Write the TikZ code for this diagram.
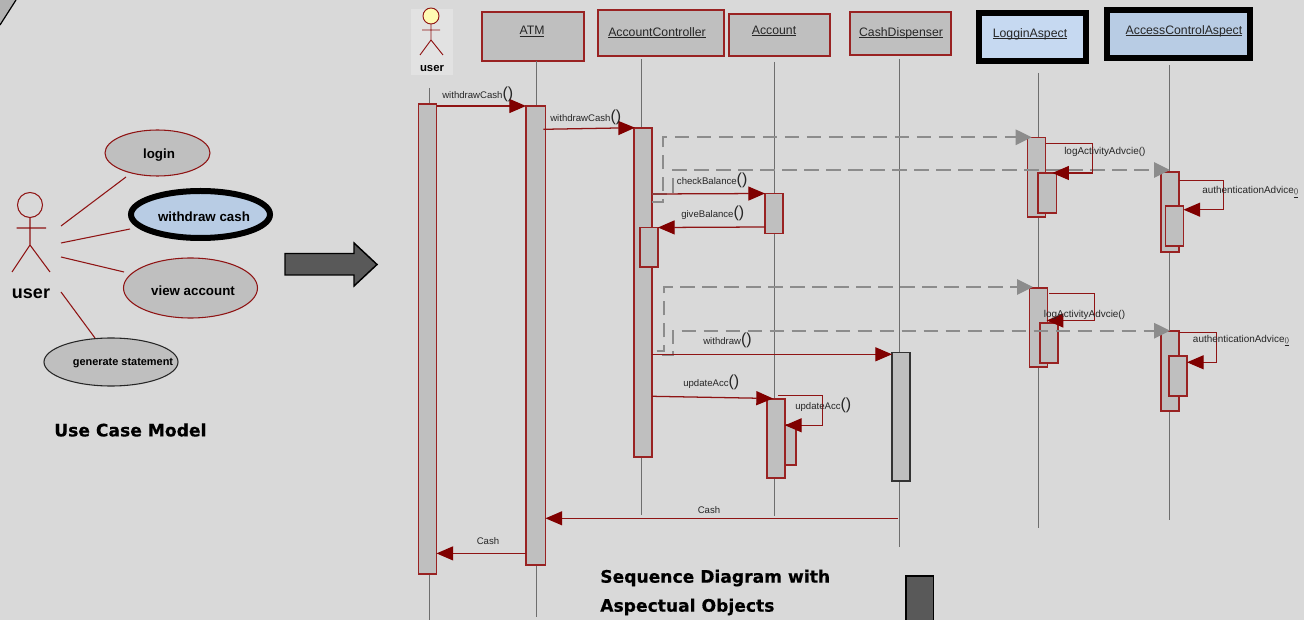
\documentclass[tikz,border=0pt]{standalone}
\usepackage{fontspec}
\setmainfont{Liberation Sans}
\newfontfamily\titlefont[BoldFeatures={FakeBold=0.5}]{DejaVu Sans}
\usetikzlibrary{arrows.meta,fit,shapes.geometric}
\definecolor{bgc}{HTML}{D9D9D9}
\definecolor{fillc}{HTML}{BFBFBF}
\definecolor{redl}{HTML}{8F1414}
\definecolor{redh}{HTML}{800000}
\definecolor{barl}{HTML}{992222}
\definecolor{dashc}{HTML}{8C8C8C}
\definecolor{lifec}{HTML}{6E6E6E}
\definecolor{darkc}{HTML}{595959}
\definecolor{blueA}{HTML}{C6D9F1}
\definecolor{blueB}{HTML}{B8CCE4}
\definecolor{paleback}{HTML}{E2E2E2}
\tikzset{
  barbox/.style={draw=barl,fill=fillc,line width=.95pt,inner sep=0pt,outer sep=0pt,rectangle},
  blackbar/.style={draw=black!80,fill=fillc,line width=.95pt,inner sep=0pt,outer sep=0pt,rectangle},
  headbox/.style={draw=barl,fill=fillc,line width=1pt,inner sep=0pt,outer sep=0pt,rectangle},
  aspectA/.style={draw=black,fill=blueA,line width=4.5pt,inner sep=0pt,outer sep=0pt,rectangle},
  aspectB/.style={draw=black,fill=blueB,line width=4.5pt,inner sep=0pt,outer sep=0pt,rectangle},
  life/.style={draw=lifec,line width=.7pt},
  msg/.style={draw=redl,line width=.95pt,-{Triangle[length=12.5pt,width=10.5pt,fill=redh,color=redh]}},
  dashmsg/.style={draw=dashc,line width=1.5pt,dash pattern=on 11pt off 5.5pt,-{Triangle[length=12pt,width=11.5pt,fill=dashc,color=dashc]}},
  assoc/.style={draw=redl,line width=.8pt},
  stick/.style={draw=redl,line width=.8pt},
  uc/.style={ellipse,draw=redl,fill=fillc,line width=.8pt,inner sep=0pt,outer sep=0pt},
  lbl/.style={anchor=west,inner sep=0pt,font=\fontsize{7.2pt}{8pt}\selectfont,text=black!85},
  advlbl/.style={anchor=west,inner sep=0pt,font=\fontsize{7.45pt}{8pt}\selectfont,text=black!85},
  headlbl/.style={anchor=base,inner sep=0pt,font=\fontsize{9.2pt}{11pt}\selectfont,text=black!85},
  uclbl/.style={inner sep=0pt,font=\fontsize{10pt}{12pt}\selectfont\bfseries},
  titlelbl/.style={anchor=west,inner sep=0pt,font=\titlefont\fontsize{12.85pt}{14pt}\selectfont\bfseries},
}
\newcommand{\boxnode}[6]{\coordinate (#1a) at (#3,#4); \coordinate (#1b) at (#5,#6);
  \node[#2,fit=(#1a)(#1b)] (#1) {};}
\newcommand{\pp}{{\fontsize{12pt}{12pt}\selectfont()}}
\newsavebox{\ulbox}
\newcommand{\ulh}[1]{\sbox{\ulbox}{#1}\rlap{\rule[-1.1pt]{\wd\ulbox}{.55pt}}\usebox{\ulbox}}
\begin{document}
\begin{tikzpicture}[x=0.75pt,y=-0.75pt]
\useasboundingbox (0,0) rectangle (1304,620);
\clip (0,0) rectangle (1304,620);
\fill[bgc] (0,0) rectangle (1304,620);
% corner fragment
\fill[black!30] (0,0) -- (16,0) -- (0,25) -- cycle;
\draw[black,line width=.9pt] (16,0) -- (0,25);

% ---------- use case model
\coordinate (hd) at (30,205);
\node[circle,draw=redl,line width=.8pt,minimum size=18.75pt,inner sep=0pt,outer sep=0pt] (uhead) at (hd) {};
\coordinate (hip) at (30,245); \coordinate (armL) at (16.5,228); \coordinate (armR) at (46,228);
\coordinate (legL) at (12,272); \coordinate (legR) at (50,272);
\draw[stick] (uhead.south) -- (hip) (armL) -- (armR) (legL) -- (hip) -- (legR);
\node[inner sep=0pt,font=\fontsize{13.5pt}{15pt}\selectfont\bfseries] (ulabel) at (31,294) {user};

\node[uc,minimum width=78.75pt,minimum height=34.5pt] (login) at (157.5,153) {};
\node[uc,draw=black,fill=blueB,line width=4.5pt,minimum width=104.25pt,minimum height=35.25pt] (withdraw) at (200.5,214.5) {};
\node[uc,minimum width=100.5pt,minimum height=45pt] (view) at (190.5,288) {};
\node[uc,draw=black!85,minimum width=100.5pt,minimum height=36pt] (gen) at (111,362) {};
\node[uclbl] (tlogin) at (159,155) {login};
\node[uclbl] (twithdraw) at (204,216.5) {withdraw cash};
\node[uclbl] (tview) at (193,291) {view account};
\node[uclbl,font=\fontsize{8.2pt}{10pt}\selectfont\bfseries] (tgen) at (123,363.5) {generate statement};
\coordinate (a1) at (61,226); \coordinate (e1) at (126,177);
\coordinate (a2) at (61,243); \coordinate (e2) at (130,229);
\coordinate (a3) at (61,257); \coordinate (e3) at (124,272);
\coordinate (a4) at (61,292); \coordinate (e4) at (95,338);
\draw[assoc] (a1) -- (e1); \draw[assoc] (a2) -- (e2); \draw[assoc] (a3) -- (e3); \draw[assoc] (a4) -- (e4);
\node[titlelbl] (tuc) at (54,430) {Use Case Model};

% big arrow
\draw[black,fill=darkc,line width=1.1pt] (285,253.5) -- (354,253.5) -- (354,243) -- (377,264.5) -- (354,286) -- (354,275) -- (285,275) -- cycle;
% bottom block
\draw[black,fill=darkc,line width=1.1pt] (906,625) -- (906,576) -- (933.5,576) -- (933.5,625);

% ---------- sequence heads
\fill[paleback] (411,9) rectangle (453,75);
\node[circle,draw=redl,fill=yellow!30,line width=.7pt,minimum size=12pt,inner sep=0pt,outer sep=0pt] (shead) at (431,16) {};
\coordinate (ship) at (431,40); \coordinate (sarmL) at (422,30); \coordinate (sarmR) at (440,30);
\coordinate (slegL) at (420,55); \coordinate (slegR) at (443,55);
\draw[stick,line width=.7pt] (shead.south) -- (ship) (sarmL) -- (sarmR) (slegL) -- (ship) -- (slegR);
\node[inner sep=0pt,font=\fontsize{8.5pt}{10pt}\selectfont\bfseries] (suser) at (432,69) {user};

\boxnode{hATM}{headbox}{482}{12}{584}{61}
\boxnode{hAC}{headbox}{598}{10}{724}{56}
\boxnode{hAcc}{headbox}{729}{14}{830}{56}
\boxnode{hCD}{headbox}{850}{12}{951}{55}
\boxnode{hLog}{aspectA}{979}{13.5}{1086}{61}
\boxnode{hAcl}{aspectB}{1107}{10}{1250}{58.5}
\node[headlbl] (lATM) at (532,35) {\ulh{ATM}};
\node[headlbl] (lAC) at (657,36.7) {\ulh{AccountController}};
\node[headlbl] (lAcc) at (774,34.5) {\ulh{Account}};
\node[headlbl] (lCD) at (901,36.5) {\ulh{CashDispenser}};
\node[headlbl] (lLog) at (1030,37.5) {\ulh{LogginAspect}};
\node[headlbl] (lAcl) at (1184,34.5) {\ulh{AccessControlAspect}};

% ---------- lifelines
\coordinate (lu0) at (429,88); \coordinate (lu1) at (429,620);
\coordinate (l1) at (536,617); \coordinate (l2) at (641,515); \coordinate (l3) at (774,516);
\coordinate (l4) at (899,547); \coordinate (l5) at (1038,528); \coordinate (l6) at (1169,520);
\draw[life] (lu0) -- (lu1);
\draw[life] (l1 |- hATM.south) -- (l1);
\draw[life] (l2 |- hAC.south) ++(0,3) -- (l2);
\draw[life] (l3 |- hAcc.south) ++(0,6) -- (l3);
\draw[life] (l4 |- hCD.south) ++(0,4) -- (l4);
\draw[life] (l5 |- hLog.south) ++(0,12) -- (l5);
\draw[life] (l6 |- hAcl.south) ++(0,7) -- (l6);

% ---------- activation bars
\boxnode{bU}{barbox}{418.5}{104}{436.5}{574}
\boxnode{bATM}{barbox}{526}{106}{545.5}{565}
\boxnode{bAC}{barbox}{634}{128}{652}{457}
\boxnode{bACs}{barbox}{640}{227.5}{658}{267}
\boxnode{bA1}{barbox}{765}{193.5}{783}{233.5}
\boxnode{bA3}{barbox}{778}{425}{796}{465}
\boxnode{bA2}{barbox}{767}{399}{785}{478}
\boxnode{bCD}{blackbar}{892}{352.5}{910}{481}
\boxnode{bL1}{barbox}{1027.7}{137.5}{1045.7}{217}
\boxnode{bL2}{barbox}{1038}{173}{1056.5}{213}
\boxnode{bC1}{barbox}{1161}{172}{1179}{252}
\boxnode{bC2}{barbox}{1165.5}{206}{1183.5}{246}
\boxnode{bL3}{barbox}{1029.7}{288}{1047.7}{367}
\boxnode{bL4}{barbox}{1040}{323}{1058}{363}
\boxnode{bC3}{barbox}{1161}{331}{1179}{411}
\boxnode{bC4}{barbox}{1169}{356}{1187}{396}

% ---------- dashed aspect calls
\coordinate (d1) at (652,202.5); \coordinate (d2) at (652,194); \coordinate (d3) at (656.5,351.5); \coordinate (d4) at (662,355);
\coordinate (t1d) at (1031.7,137.3); \coordinate (t2d) at (1170,170); \coordinate (t3d) at (1033,287); \coordinate (t4d) at (1170,330.7);
\draw[dashmsg] (d1) -- (662.7,202.5) -- (662.7,137.3) -- (t1d);
\draw[dashmsg] (d2) -- (673,194) -- (673,170) -- (t2d);
\draw[dashmsg] (d3) -- (664.3,351.5) -- (664.3,287) -- (t3d);
\draw[dashmsg] (d4) -- (672.7,355) -- (672.7,330.7) -- (t4d);

% ---------- messages
\coordinate (s2) at (543.3,129.3); \coordinate (t2) at (635,127.7);
\coordinate (t6) at (773,398.5); \coordinate (s7) at (778,395.7);
\coordinate (t8) at (1052.3,173); \coordinate (s10) at (1049,293.7); \coordinate (t10) at (1046.7,320.5);
\draw[msg] (bU.east |- 0,106) -- (bATM.west |- 0,106);
\draw[msg] (s2) -- (t2);
\draw[msg] (bAC.east |- 0,194) -- (bA1.north west);
\draw[msg] (bA1.west |- 0,227) -- (bACs.north east);
\draw[msg] (bAC.east |- 0,354.3) -- (bCD.west |- 0,354.3);
\draw[msg] (bAC.east |- 0,396.3) -- (t6);
\draw[msg] (s7) -- (822.7,395.7) -- (822.7,425.3) -- (bA2.east |- 0,425.3);
\draw[msg] (bL1.east |- 0,143.7) -- (1092.3,143.7) -- (1092.3,173) -- (t8);
\draw[msg] (bC1.east |- 0,180.3) -- (1223.7,180.3) -- (1223.7,209.7) -- (bC2.east |- 0,209.7);
\draw[msg] (s10) -- (1094.3,293.7) -- (1094.3,320.5) -- (t10);
\draw[msg] (bC3.east |- 0,332.7) -- (1216.3,332.7) -- (1216.3,362.3) -- (bC4.east |- 0,362.3);
\coordinate (cs) at (898,518.3);
\draw[msg] (cs) -- (bATM.east |- cs);
\draw[msg] (bATM.west |- 0,553.4) -- (bU.east |- 0,553.4);

% ---------- message labels
\node[lbl] (m1) at (442,94) {withdrawCash\pp};
\node[lbl] (m2) at (550,117) {withdrawCash\pp};
\node[lbl] (m3) at (676.7,180) {checkBalance\pp};
\node[lbl] (m4) at (681,213) {giveBalance\pp};
\node[lbl] (m5) at (703,340) {withdraw\pp};
\node[lbl] (m6) at (683,382) {updateAcc\pp};
\node[lbl] (m7) at (795,405) {updateAcc\pp};
\node[advlbl] (m8) at (1064,151.7) {logActivityAdvcie()};
\node[advlbl] (m9) at (1202,192) {authenticationAdvice\underline{\fontsize{5pt}{5pt}\selectfont()}};
\node[advlbl] (m10) at (1043.7,315.3) {logActivityAdvcie()};
\node[advlbl] (m11) at (1192.7,340.7) {authenticationAdvice\underline{\fontsize{5pt}{5pt}\selectfont()}};
\node[lbl,anchor=center] (m12) at (709,510) {Cash};
\node[lbl,anchor=center] (m13) at (488,541) {Cash};

\node[titlelbl] (tt1) at (600,578) {Sequence Diagram with};
\node[titlelbl] (tt2) at (600,607) {Aspectual Objects};
\end{tikzpicture}
\end{document}
